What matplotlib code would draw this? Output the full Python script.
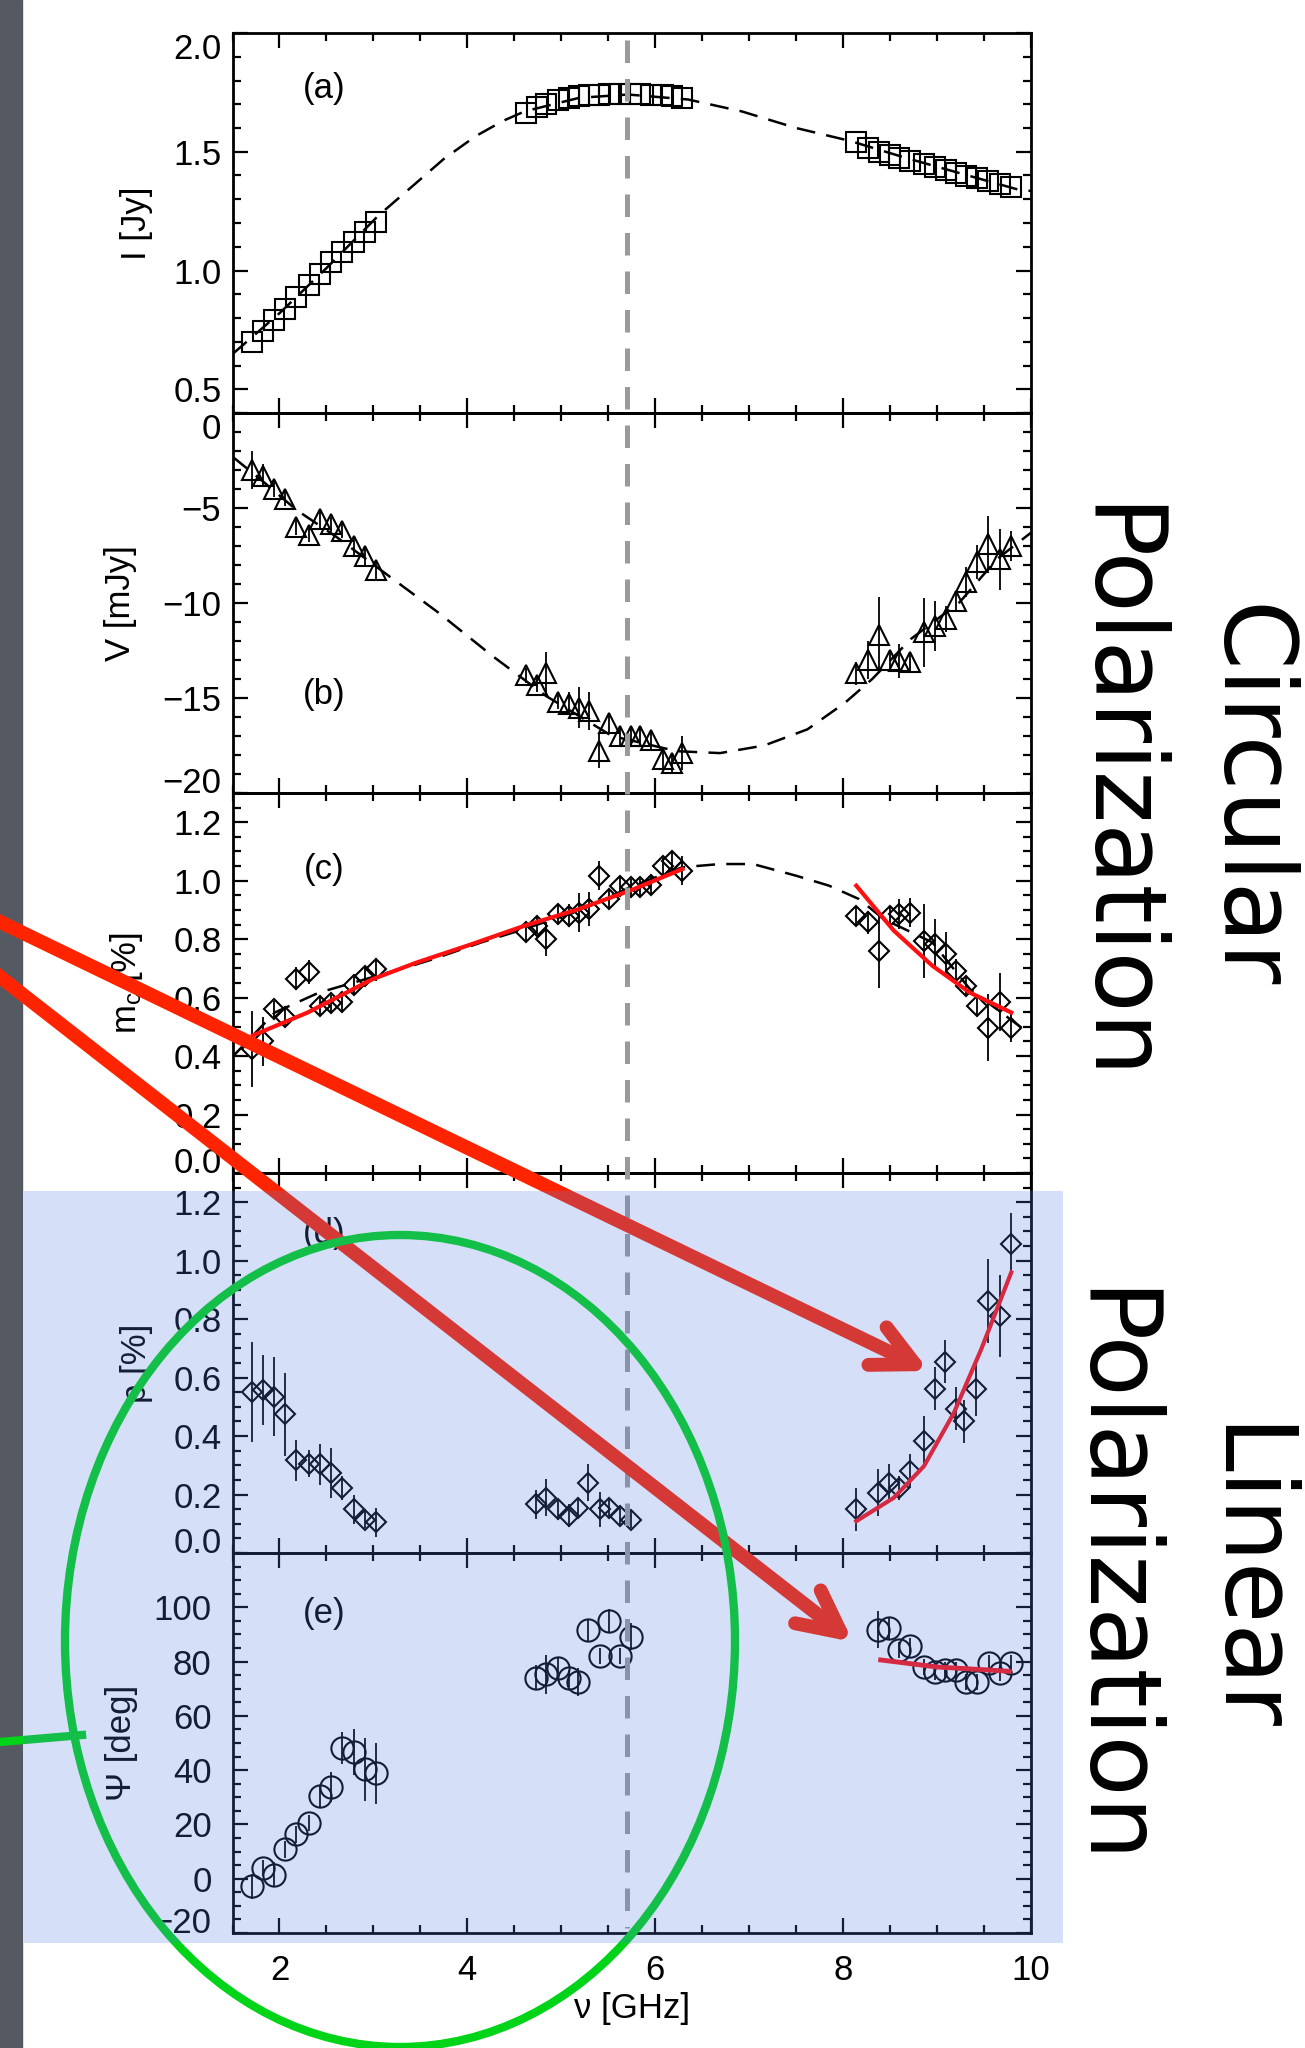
import matplotlib
matplotlib.use('Agg')
import matplotlib.pyplot as plt
import matplotlib.patches as mpatches
import matplotlib.transforms as mtransforms
from matplotlib.lines import Line2D
from matplotlib.ticker import MultipleLocator

plt.rcParams['font.family'] = ['Liberation Sans', 'DejaVu Sans']
plt.rcParams['mathtext.default'] = 'regular'

# --- frequencies (GHz) ---
nu_lo = [1.71, 1.82, 1.94, 2.06, 2.18, 2.31, 2.43, 2.55, 2.67, 2.79, 2.91, 3.03]
nu_mid = [4.62, 4.74, 4.84, 4.96, 5.08, 5.19, 5.29, 5.40, 5.51, 5.62, 5.74, 5.84,
          5.95, 6.08, 6.18, 6.29]
nu_hi = [8.14, 8.27, 8.38, 8.50, 8.60, 8.71, 8.86, 8.98, 9.09, 9.20, 9.31, 9.42,
         9.54, 9.67, 9.79]
nu_pol_mid = [4.73, 4.84, 4.96, 5.08, 5.18, 5.28, 5.41, 5.51, 5.62, 5.74]
nu_p_hi = [8.14, 8.37, 8.49, 8.60, 8.71, 8.86, 8.98, 9.08, 9.20, 9.29, 9.41, 9.54,
           9.67, 9.79]
nu_psi_hi = [8.37, 8.49, 8.60, 8.71, 8.86, 8.98, 9.08, 9.20, 9.31, 9.42, 9.55,
             9.67, 9.79]

# (a) total intensity
I_lo = [0.70, 0.747, 0.793, 0.84, 0.889, 0.938, 0.985, 1.034, 1.076, 1.12, 1.163, 1.205]
I_mid = [1.664, 1.689, 1.70, 1.716, 1.727, 1.734, 1.737, 1.740, 1.742, 1.743, 1.743,
         1.742, 1.740, 1.737, 1.733, 1.728]
I_hi = [1.54, 1.517, 1.50, 1.487, 1.475, 1.46, 1.447, 1.435, 1.425, 1.412, 1.40,
        1.39, 1.377, 1.365, 1.35]
model_I_nu = [1.5, 2.0, 2.5, 3.05, 3.43, 3.75, 4.09, 4.38, 4.61, 5.19, 5.71, 6.35,
              6.92, 7.50, 8.08, 8.66, 9.24, 9.87, 10.0]
model_I = [0.648, 0.82, 1.01, 1.23, 1.36, 1.47, 1.566, 1.63, 1.67, 1.727, 1.741,
           1.72, 1.67, 1.60, 1.545, 1.475, 1.41, 1.34, 1.335]

# (b) circular flux
V_lo = [-3.0, -3.3, -4.0, -4.5, -6.0, -6.4, -5.6, -5.85, -6.2, -7.0, -7.5, -8.25]
V_lo_err = [1.0, 0.6, 0.4, 0.4, 0.4, 0.4, 0.5, 0.4, 0.4, 0.5, 0.5, 0.5]
V_mid = [-13.8, -14.3, -13.7, -15.2, -15.3, -15.5, -15.7, -17.8, -16.3, -17.0, -17.0,
         -17.0, -17.2, -18.2, -18.4, -17.9]
V_mid_err = [0.4, 0.4, 1.1, 0.4, 0.6, 1.1, 1.0, 0.9, 0.5, 0.5, 0.5, 0.5, 0.5, 0.5,
             0.5, 0.9]
V_hi = [-13.7, -13.0, -11.7, -13.0, -13.05, -13.1, -11.55, -11.2, -10.85, -9.9, -8.9,
        -7.85, -6.9, -7.7, -7.0]
V_hi_err = [0.6, 1.0, 2.0, 0.5, 0.9, 0.5, 1.8, 1.3, 0.7, 0.5, 0.8, 0.9, 1.5, 1.6, 0.8]
model_V_nu = [1.5, 1.8, 2.18, 2.6, 3.11, 3.69, 4.27, 4.84, 5.54, 6.23, 6.69, 7.16,
              7.62, 8.02, 8.31, 8.72, 9.24, 9.64, 10.0]
model_V = [-2.3, -3.5, -5.1, -6.5, -8.38, -10.5, -12.8, -14.9, -17.0, -17.8, -17.9,
           -17.5, -16.65, -15.25, -14.0, -11.9, -9.96, -7.68, -6.3]

# (c) circular fraction
mc_lo = [0.425, 0.45, 0.56, 0.535, 0.665, 0.688, 0.571, 0.58, 0.585, 0.642, 0.674, 0.697]
mc_lo_err = [0.13, 0.083, 0.03, 0.03, 0.04, 0.04, 0.03, 0.03, 0.03, 0.03, 0.03, 0.04]
mc_mid = [0.823, 0.846, 0.80, 0.886, 0.88, 0.891, 0.903, 1.017, 0.937, 0.983, 0.977,
          0.977, 0.985, 1.049, 1.069, 1.034]
mc_mid_err = [0.03, 0.03, 0.057, 0.03, 0.04, 0.068, 0.057, 0.05, 0.03, 0.03, 0.03,
              0.03, 0.03, 0.03, 0.03, 0.05]
mc_hi = [0.88, 0.857, 0.76, 0.88, 0.886, 0.891, 0.794, 0.783, 0.749, 0.691, 0.64,
         0.571, 0.497, 0.585, 0.497]
mc_hi_err = [0.035, 0.04, 0.126, 0.03, 0.05, 0.05, 0.126, 0.086, 0.074, 0.04, 0.035,
             0.035, 0.114, 0.1, 0.05]
model_mc_nu = [1.49, 1.95, 2.42, 3.46, 3.63, 4.15, 4.55, 5.19, 5.77, 6.29, 6.69, 7.04,
               7.50, 7.85, 8.17, 8.43, 8.95, 9.35, 9.90]
model_mc = [0.394, 0.549, 0.617, 0.714, 0.731, 0.789, 0.829, 0.897, 0.983, 1.046,
            1.057, 1.057, 1.017, 0.983, 0.937, 0.869, 0.789, 0.629, 0.497]
fit_mc1_nu = [1.72, 2.30, 2.99, 3.46, 4.03, 4.61, 5.19, 5.77, 6.29]
fit_mc1 = [0.471, 0.549, 0.663, 0.72, 0.781, 0.846, 0.903, 0.971, 1.04]
fit_mc2_nu = [8.14, 8.54, 8.95, 9.35, 9.79]
fit_mc2 = [0.983, 0.829, 0.709, 0.617, 0.549]

# (d) linear fraction
p_lo = [0.551, 0.558, 0.535, 0.474, 0.317, 0.306, 0.303, 0.274, 0.223, 0.149, 0.114, 0.105]
p_lo_err = [0.17, 0.12, 0.134, 0.143, 0.069, 0.046, 0.069, 0.086, 0.04, 0.049, 0.03, 0.049]
p_mid = [0.166, 0.189, 0.149, 0.128, 0.154, 0.24, 0.149, 0.154, 0.126, 0.114]
p_mid_err = [0.05, 0.063, 0.035, 0.04, 0.035, 0.063, 0.06, 0.035, 0.035, 0.03]
p_hi = [0.149, 0.206, 0.24, 0.223, 0.28, 0.383, 0.562, 0.654, 0.494, 0.451, 0.562,
        0.863, 0.811, 1.057]
p_hi_err = [0.074, 0.08, 0.063, 0.04, 0.057, 0.086, 0.074, 0.074, 0.074, 0.074, 0.094,
            0.143, 0.14, 0.106]
fit_p_nu = [8.14, 8.54, 8.86, 9.18, 9.47, 9.79]
fit_p = [0.109, 0.189, 0.297, 0.48, 0.697, 0.96]

# (e) polarization angle
psi_lo = [-2.8, 3.9, 1.5, 10.8, 16.3, 20.6, 30.3, 33.9, 48.1, 46.8, 40.4, 38.8]
psi_lo_err = [4.5, 3, 4.5, 3, 3, 3, 4.3, 5.5, 5.8, 8.5, 11.6, 11.3]
psi_mid = [74.1, 75.3, 77.7, 73.8, 72.6, 91.5, 82.1, 94.9, 82.0, 89.1]
psi_mid_err = [4.6, 7.3, 4, 3, 5.2, 4, 3, 4.3, 3, 5]
psi_hi = [91.8, 92.3, 84.2, 85.8, 78.1, 76.3, 76.9, 76.9, 72.6, 72.6, 79.3, 75.7, 79.3]
psi_hi_err = [6.7, 4, 3, 3, 3, 3, 3, 3, 3, 3, 3, 3, 3]
fit_psi_nu = [8.40, 9.0, 9.5, 9.77]
fit_psi = [80.6, 78.0, 77.0, 76.4]

nu_peak = 5.7

# --- layout (pixels of the 1305x2048 canvas) ---
W, H = 1305, 2048
fig = plt.figure(figsize=(W / 100, H / 100), dpi=100)
x0, x1 = 232.5, 1031
panel_top = [33, 413, 793, 1173, 1553]
ph = 380
axes = [fig.add_axes([x0 / W, 1 - (t + ph) / H, (x1 - x0) / W, ph / H]) for t in panel_top]

FS = 25
RED = '#ff1010'


def style(ax, ylim, ticks, minor):
    ax.set_xlim(1.5, 10)
    ax.set_ylim(*ylim)
    ax.xaxis.set_major_locator(MultipleLocator(2))
    ax.xaxis.set_minor_locator(MultipleLocator(0.5))
    ax.set_yticks(ticks)
    ax.yaxis.set_minor_locator(MultipleLocator(minor))
    ax.tick_params(which='both', direction='in', top=True, right=True, width=1.6,
                   labelsize=FS, pad=8, labelbottom=False)
    ax.tick_params(which='major', length=11)
    ax.tick_params(which='minor', length=5.5)
    for s in ax.spines.values():
        s.set_linewidth(2)
    ax.patch.set_alpha(0)


def points(ax, groups, marker, ms):
    for x, y, e in groups:
        if e is not None:
            ax.errorbar(x, y, yerr=e, fmt='none', ecolor='k', elinewidth=1.3)
        ax.plot(x, y, ls='none', marker=marker, ms=ms, mfc='none', mec='k', mew=1.5)


def edge_labels(ax, bottom=False, top=False):
    labs = ax.get_yticklabels()
    if bottom:
        labs[0].set_verticalalignment('baseline')
    if top:
        labs[-1].set_verticalalignment('top')


dash = (0, (7.5, 4.5))

# (a)
ax = axes[0]
style(ax, (0.4, 2.0), [0.5, 1.0, 1.5, 2.0], 0.1)
ax.plot(model_I_nu, model_I, color='k', lw=1.8, ls=dash)
points(ax, [(nu_lo, I_lo, None), (nu_mid, I_mid, None), (nu_hi, I_hi, None)], 's', 14.4)
edge_labels(ax, top=True)
ax.set_ylabel('I [Jy]', fontsize=FS)
ax.yaxis.set_label_coords(-0.10, 0.5)
ax.text(0.115, 0.853, '(a)', transform=ax.transAxes, fontsize=FS, ha='center', va='center')

# (b)
ax = axes[1]
style(ax, (-20, 0), [-20, -15, -10, -5, 0], 1)
ax.plot(model_V_nu, model_V, color='k', lw=1.8, ls=dash)
points(ax, [(nu_lo, V_lo, V_lo_err), (nu_mid, V_mid, V_mid_err), (nu_hi, V_hi, V_hi_err)], '^', 14)
edge_labels(ax, bottom=True, top=True)
ax.set_ylabel('V [mJy]', fontsize=FS)
ax.yaxis.set_label_coords(-0.12, 0.5)
ax.text(0.115, 0.258, '(b)', transform=ax.transAxes, fontsize=FS, ha='center', va='center')

# (c)
ax = axes[2]
style(ax, (0, 1.3), [0, 0.2, 0.4, 0.6, 0.8, 1.0, 1.2], 0.05)
ax.plot(model_mc_nu, model_mc, color='k', lw=1.8, ls=dash)
points(ax, [(nu_lo, mc_lo, mc_lo_err), (nu_mid, mc_mid, mc_mid_err), (nu_hi, mc_hi, mc_hi_err)], 'D', 10.2)
ax.plot(fit_mc1_nu, fit_mc1, color=RED, lw=3)
ax.plot(fit_mc2_nu, fit_mc2, color=RED, lw=3)
edge_labels(ax, bottom=True)
ax.set_ylabel('m$_c$ [%]', fontsize=FS)
ax.yaxis.set_label_coords(-0.11, 0.5)
ax.text(0.115, 0.80, '(c)', transform=ax.transAxes, fontsize=FS, ha='center', va='center')

# (d)
ax = axes[3]
style(ax, (0, 1.3), [0, 0.2, 0.4, 0.6, 0.8, 1.0, 1.2], 0.05)
points(ax, [(nu_lo, p_lo, p_lo_err), (nu_pol_mid, p_mid, p_mid_err), (nu_p_hi, p_hi, p_hi_err)], 'D', 10.2)
ax.plot(fit_p_nu, fit_p, color=RED, lw=3)
edge_labels(ax, bottom=True)
ax.set_ylabel('p [%]', fontsize=FS)
ax.yaxis.set_label_coords(-0.10, 0.5)
ax.text(0.115, 0.84, '(d)', transform=ax.transAxes, fontsize=FS, ha='center', va='center')

# (e)
ax = axes[4]
style(ax, (-20, 120), [-20, 0, 20, 40, 60, 80, 100], 5)
points(ax, [(nu_lo, psi_lo, psi_lo_err), (nu_pol_mid, psi_mid, psi_mid_err), (nu_psi_hi, psi_hi, psi_hi_err)], 'o', 16)
ax.plot(fit_psi_nu, fit_psi, color=RED, lw=3.5)
edge_labels(ax, bottom=True)
ax.set_ylabel('Ψ [deg]', fontsize=FS)
ax.yaxis.set_label_coords(-0.118, 0.5)
ax.text(0.115, 0.842, '(e)', transform=ax.transAxes, fontsize=FS, ha='center', va='center')
ax.tick_params(labelbottom=True, pad=15)
ax.set_xlabel('ν [GHz]', fontsize=FS)
ax.xaxis.set_label_coords(0.5, -0.155)

# grey dashed line marking the turnover frequency, through all panels
trans = mtransforms.blended_transform_factory(axes[0].transData, fig.transFigure)
fig.add_artist(Line2D([nu_peak, nu_peak], [1 - 40 / H, 1 - 1928 / H], transform=trans,
                      color='#9a9a9a', lw=3.6, ls=(0, (4.5, 3.2))))

# --- slide annotations on top (pixel coordinates) ---
ov = fig.add_axes([0, 0, 1, 1], zorder=10)
ov.set_xlim(0, W)
ov.set_ylim(H, 0)
ov.axis('off')
ov.patch.set_alpha(0)

ov.add_patch(mpatches.Rectangle((0, 0), 22, H, color='#555a62', zorder=1))

arrow_style = mpatches.ArrowStyle('->', head_length=30, head_width=15)
for start, tip in [((-10, 917), (929, 1371)), ((-10, 969), (853, 1642))]:
    ov.add_patch(mpatches.FancyArrowPatch(start, tip, arrowstyle=arrow_style, mutation_scale=1,
                                          lw=10, color='#ff2400', capstyle='round',
                                          joinstyle='round', shrinkA=0, shrinkB=0, zorder=2))

ov.add_patch(mpatches.Ellipse((400, 1641), 670, 812, fill=False, ec='#00d418', lw=6, zorder=3))
ov.plot([0, 82], [1742, 1735], color='#00d418', lw=6, zorder=3)

# translucent blue box behind the linear polarization panels
ov.add_patch(mpatches.Rectangle((24, 1191), 1039, 752, facecolor='#537de5', alpha=0.24,
                                lw=0, zorder=5))

side = dict(rotation=-90, rotation_mode='anchor', ha='center', va='baseline',
            fontsize=72, family='DejaVu Sans', zorder=6)
ov.text(1218, 797, 'Circular', **side)
ov.text(1085, 794, 'Polarization', **side)
ov.text(1215, 1580, 'Linear', **side)
ov.text(1080, 1578, 'Polarization', **side)

fig.savefig('out.png', dpi=100)
